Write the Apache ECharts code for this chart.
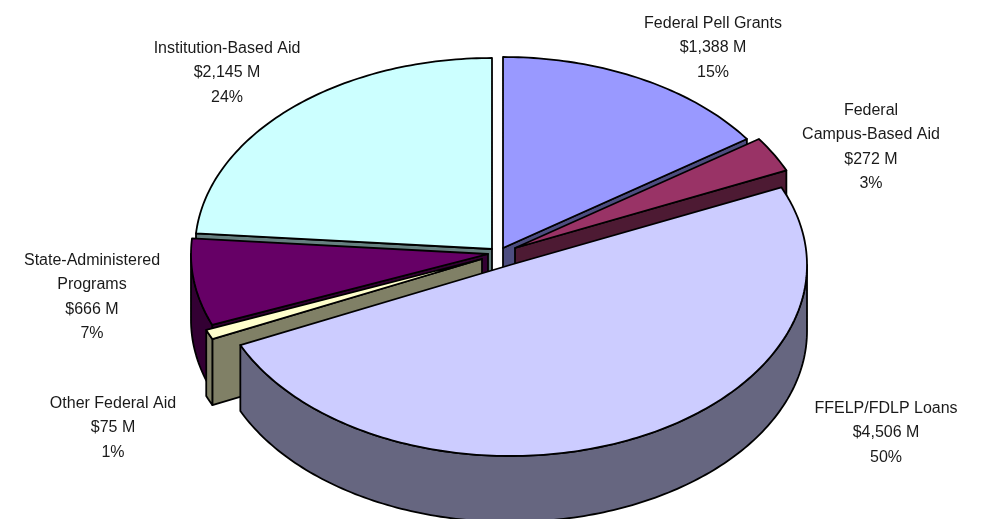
<!DOCTYPE html>
<html>
<head>
<meta charset="utf-8">
<style>
  html, body { margin: 0; padding: 0; background: #fff; }
  #chart { width: 988px; height: 519px; }
</style>
<script src="https://cdn.jsdelivr.net/npm/echarts@6/dist/echarts.min.js"></script>
</head>
<body>
<div id="chart"></div>
<script>
// ── Data, clockwise from 12 o'clock ─────────────────────────────────────
const categories = ['Federal Pell Grants', 'Federal\nCampus-Based Aid', 'FFELP/FDLP Loans',
  'Other Federal Aid', 'State-Administered\nPrograms', 'Institution-Based Aid'];
const amounts = [1388, 272, 4506, 75, 666, 2145];

// ── Styles and layout ───────────────────────────────────────────────────
const topColors  = ['#9999FF', '#993366', '#CCCCFF', '#FFFFCC', '#660066', '#CCFFFF'];
const sideColors = ['#4D4D80', '#4D1A33', '#666680', '#808066', '#330033', '#668080'];
const sliceCenters = [[503, 248], [515, 248], [510, 265], [482, 259], [488, 254], [492, 249]]; // exploded apex
const labelCenters = [[713, 48], [871, 147], [886, 433], [113, 428], [92, 297], [227, 73]];
const paintOrder = [5, 0, 4, 1, 3, 2]; // back to front
const radiusX = 297;
const radiusY = 191;
const depth = 66;
const fontFamily = '"Liberation Sans", Arial, sans-serif';

const total = amounts.reduce((a, b) => a + b, 0);
const startAngles = [];
amounts.reduce((sum, v, i) => { startAngles[i] = sum / total * 360; return sum + v; }, 0);

function rimPoint(center, deg, drop) {
  const r = deg * Math.PI / 180;
  return [center[0] + radiusX * Math.sin(r), center[1] - radiusY * Math.cos(r) + (drop || 0)];
}

function arcPoints(center, from, to, drop) {
  const pts = [];
  const n = Math.max(2, Math.ceil(to - from));
  for (let k = 0; k <= n; k++) pts.push(rimPoint(center, from + (to - from) * k / n, drop));
  return pts;
}

function face(points, fill) {
  return {
    type: 'polygon',
    shape: { points },
    style: { fill, stroke: '#000', lineWidth: 1.8, lineJoin: 'round' },
  };
}

function renderSlice(params, api) {
  const i = api.value(0);
  const c = sliceCenters[i];
  const from = startAngles[i];
  const to = from + api.value(1) / total * 360;
  const side = sideColors[i];
  const children = [];

  // cut face at the end edge shows on the right half, at the start edge on the left half
  const cutAngles = [];
  if (to < 180) cutAngles.push(to);
  if (from > 180) cutAngles.push(from);
  cutAngles.forEach((deg) => {
    const p = rimPoint(c, deg);
    children.push(face([c, p, [p[0], p[1] + depth], [c[0], c[1] + depth]], side));
  });

  // outer wall only where the rim faces the viewer
  const wallFrom = Math.max(from, 90);
  const wallTo = Math.min(to, 270);
  if (wallTo > wallFrom) {
    children.push(face(arcPoints(c, wallFrom, wallTo).concat(arcPoints(c, wallFrom, wallTo, depth).reverse()), side));
  }

  children.push(face([c].concat(arcPoints(c, from, to)), topColors[i]));

  const amount = '$' + api.value(1).toLocaleString('en-US') + ' M';
  const share = Math.round(api.value(1) / total * 100) + '%';
  children.push({
    type: 'text',
    style: {
      text: categories[i] + '\n' + amount + '\n' + share,
      x: labelCenters[i][0],
      y: labelCenters[i][1],
      align: 'center',
      verticalAlign: 'middle',
      fontFamily,
      fontSize: 16,
      lineHeight: 24.5,
      fill: '#1a1a1a',
    },
  });
  return { type: 'group', children };
}

const chart = echarts.init(document.getElementById('chart'), null, { renderer: 'canvas' });
chart.setOption({
  animation: false,
  backgroundColor: '#fff',
  tooltip: { show: false },
  series: [{
    type: 'custom',
    coordinateSystem: 'none',
    renderItem: renderSlice,
    silent: true,
    data: paintOrder.map((i) => [i, amounts[i]]),
  }],
});
</script>
</body>
</html>
